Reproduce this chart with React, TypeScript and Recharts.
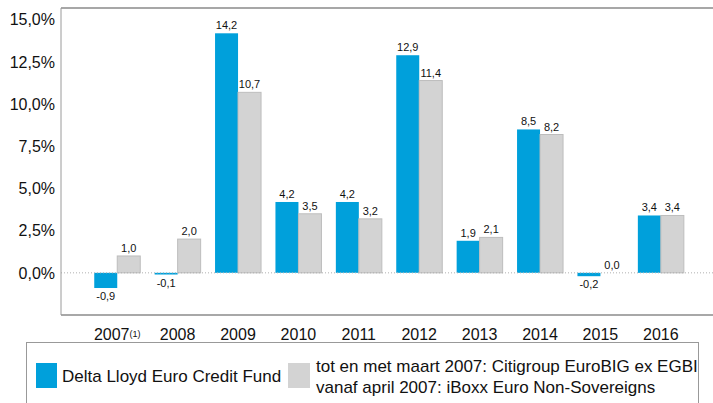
import React from 'react';
import { BarChart, Bar, XAxis, YAxis, ReferenceLine, LabelList } from 'recharts';

const years = ['2007', '2008', '2009', '2010', '2011', '2012', '2013', '2014', '2015', '2016'];
const fundValues = [-0.9, -0.1, 14.2, 4.2, 4.2, 12.9, 1.9, 8.5, -0.2, 3.4];
const benchValues = [1.0, 2.0, 10.7, 3.5, 3.2, 11.4, 2.1, 8.2, 0.0, 3.4];
const yTicks = [0, 2.5, 5, 7.5, 10, 12.5, 15];
const fundName = 'Delta Lloyd Euro Credit Fund';
const benchLine1 = 'tot en met maart 2007: Citigroup EuroBIG ex EGBI';
const benchLine2 = 'vanaf april 2007: iBoxx Euro Non-Sovereigns';

const data = years.map((y, i) => ({ year: y, fund: fundValues[i], bench: benchValues[i] }));

const FONT = '"Liberation Sans", Arial, sans-serif';
const BLUE = '#00a0db';
const GRAY = '#d3d3d3';

const fmt = (v: number) => Number(v).toFixed(1).replace('.', ',');

const BarWithLabel = (fill: string, stroke?: string) => (props: any) => {
  const { x, y, width, height, value } = props;
  const v = Array.isArray(value) ? value[1] - value[0] : value;
  const raw = typeof props.payload === 'object' && props.dataKey ? props.payload[props.dataKey] : v;
  const val = typeof raw === 'number' ? raw : v;
  const top = Math.min(y, y + height);
  const bottom = Math.max(y, y + height);
  const h = Math.abs(height);
  const cx = x + width / 2;
  const ty = val < 0 ? bottom + 12 : top - 4;
  return (
    <g>
      {h > 0 ? (
        <rect x={x} y={top} width={width} height={h} fill={fill} stroke={stroke || 'none'} strokeWidth={stroke ? 1 : 0} />
      ) : null}
      <text x={cx} y={ty} textAnchor="middle" fontSize={11} fill="#111" fontFamily={FONT}>
        {fmt(val)}
      </text>
    </g>
  );
};

const fundShape = BarWithLabel(BLUE);
const benchShape = BarWithLabel(GRAY, '#bdbdbd');

const XTick = (props: any) => {
  const { x, y, payload } = props;
  const first = payload.value === '2007';
  return (
    <text x={x} y={y + 17} textAnchor="middle" fontSize={16} fill="#111" fontFamily={FONT}>
      <tspan>{payload.value}</tspan>
      {first ? <tspan fontSize={9} dy={-3}>(1)</tspan> : null}
    </text>
  );
};

export default function App() {
  return (
    <div style={{ position: 'absolute', left: 0, top: 0, width: 713, height: 403, background: '#fff', fontFamily: FONT, overflow: 'hidden' }}>
      <BarChart
        width={713}
        height={403}
        data={data}
        margin={{ top: 8, right: 0, left: 0, bottom: 58 }}
        barGap={0}
        barCategoryGap="12%"
      >
        <XAxis
          dataKey="year"
          axisLine={{ stroke: '#a8a8a8', strokeWidth: 2 }}
          tickLine={false}
          tick={<XTick />}
          padding={{ left: 26, right: 22 }}
          height={30}
          interval={0}
        />
        <YAxis
          width={61}
          domain={[-2.5, 15.7]}
          ticks={yTicks}
          allowDataOverflow
          tickFormatter={(v: number) => fmt(v) + '%'}
          axisLine={{ stroke: '#9a9a9a' }}
          tickLine={false}
          tickSize={4}
          tickMargin={2}
          tick={{ fontSize: 16, fill: '#111', fontFamily: FONT }}
        />
        <ReferenceLine y={15.7} stroke="#8a8a8a" strokeWidth={1.5} />
        <ReferenceLine y={0} stroke="#b0b0b0" strokeDasharray="1 2" />
        <Bar dataKey="fund" fill={BLUE} isAnimationActive={false} shape={fundShape} />
        <Bar dataKey="bench" fill={GRAY} isAnimationActive={false} shape={benchShape} />
      </BarChart>
      <div
        style={{
          position: 'absolute',
          left: 26,
          top: 342,
          width: 673,
          height: 80,
          border: '1px solid #999',
          boxSizing: 'border-box',
          fontFamily: FONT,
          fontSize: 17,
          color: '#111',
        }}
      >
        <div style={{ position: 'absolute', left: 9, top: 20, width: 21, height: 25, background: BLUE }} />
        <div style={{ position: 'absolute', left: 35, top: 24, whiteSpace: 'nowrap', lineHeight: '20px' }}>{fundName}</div>
        <div style={{ position: 'absolute', left: 261, top: 20, width: 22, height: 25, background: GRAY }} />
        <div style={{ position: 'absolute', left: 289, top: 13, whiteSpace: 'nowrap', lineHeight: '21px' }}>
          <div>{benchLine1}</div>
          <div>{benchLine2}</div>
        </div>
      </div>
    </div>
  );
}
